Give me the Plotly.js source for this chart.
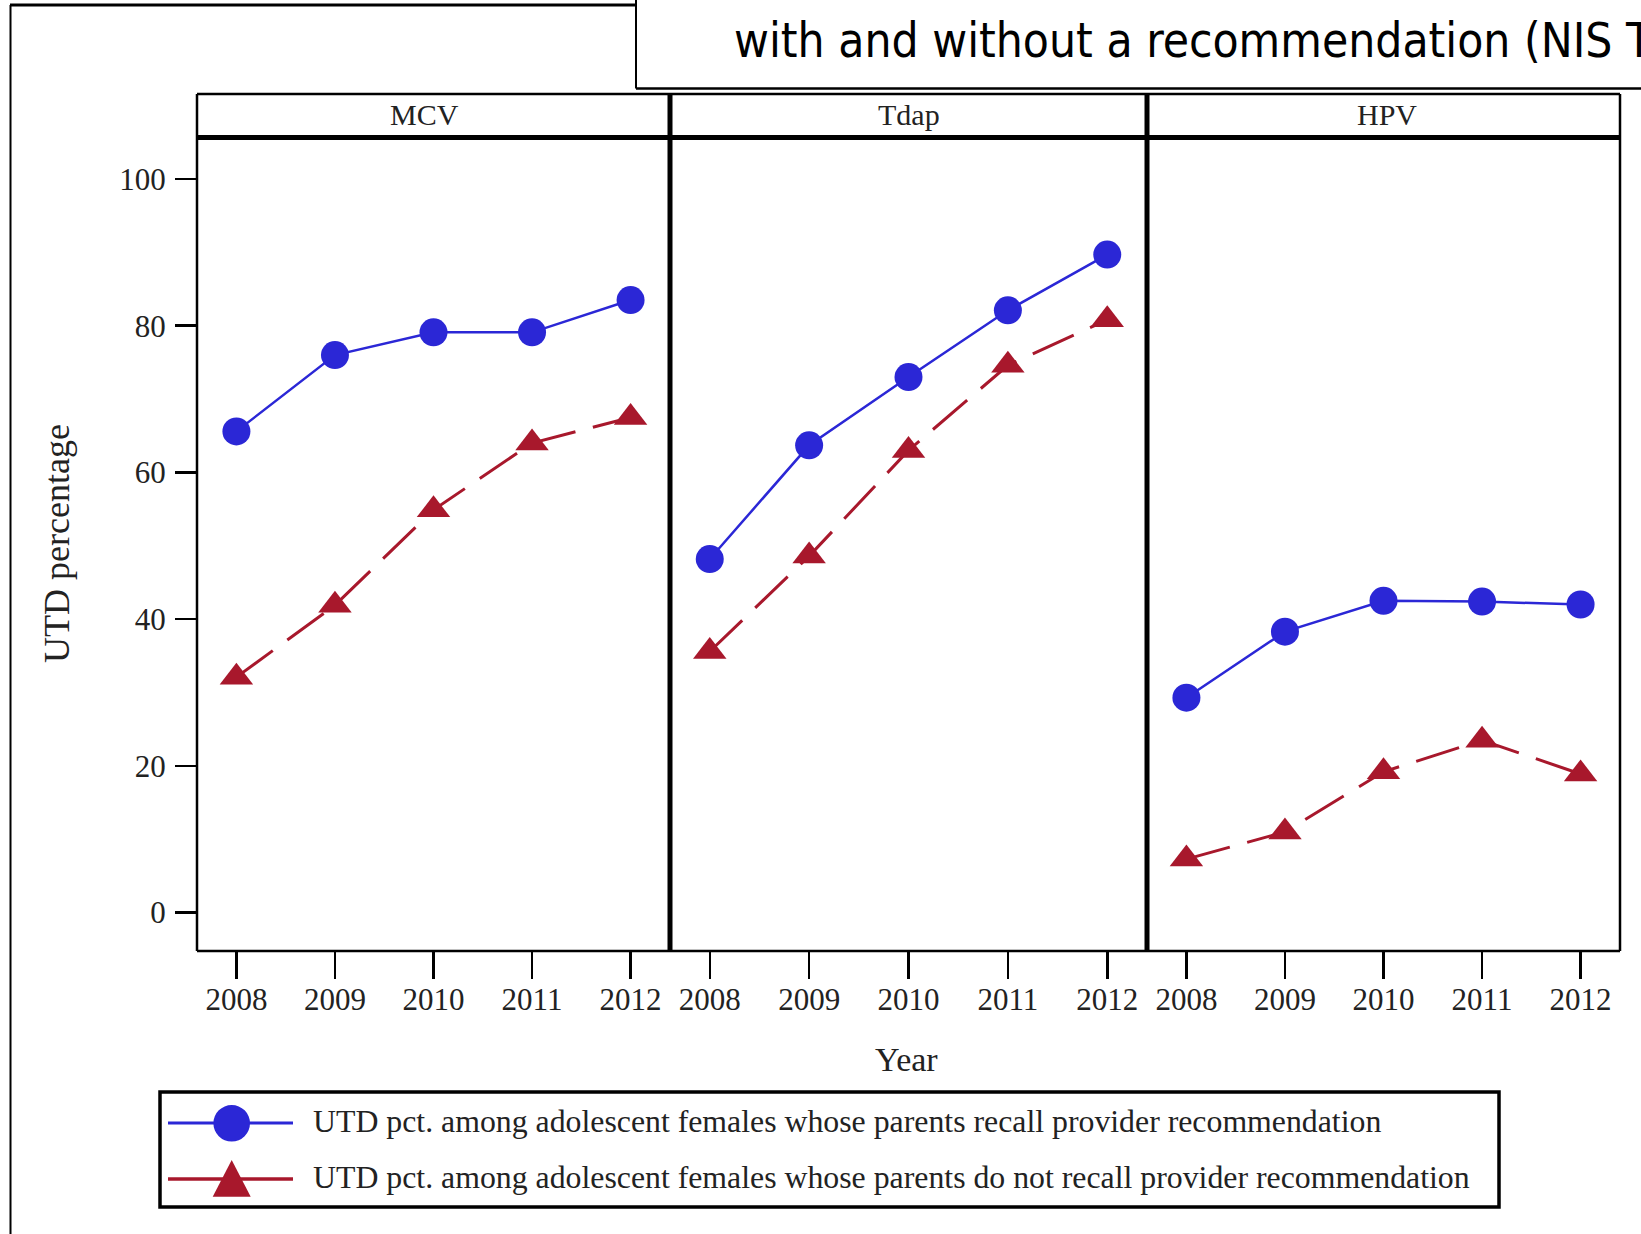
<!DOCTYPE html>
<html>
<head>
<meta charset="utf-8">
<script src="https://cdn.plot.ly/plotly-3.0.1.min.js"></script>
<style>
  html, body { margin: 0; padding: 0; background: #ffffff; overflow: hidden; }
  #chart { width: 1641px; height: 1234px; }
</style>
</head>
<body>
<div id="chart"></div>
<script>
// ---- Data ----
const years = [2008, 2009, 2010, 2011, 2012];
const yearLabels = ["2008", "2009", "2010", "2011", "2012"];
const panels = ["MCV", "Tdap", "HPV"];

const mcvRecommended   = [65.6, 76.0, 79.1, 79.1, 83.5];
const mcvNoRecommend   = [32.1, 41.9, 54.9, 64.0, 67.5];
const tdapRecommended  = [48.2, 63.7, 73.0, 82.1, 89.7];
const tdapNoRecommend  = [35.6, 48.6, 63.0, 74.6, 80.8];
const hpvRecommended   = [29.3, 38.3, 42.5, 42.4, 42.0];
const hpvNoRecommend   = [7.3, 11.0, 19.2, 23.5, 18.9];

const yTicks = [0, 20, 40, 60, 80, 100];

const seriesNames = [
  "UTD pct. among adolescent females whose parents recall provider recommendation",
  "UTD pct. among adolescent females whose parents do not recall provider recommendation"
];
const titleText = "with and without a recommendation (NIS T";
const yTitle = "UTD percentage";
const xTitle = "Year";

// ---- Styling ----
const W = 1641, H = 1234;
const BLUE = "#2B27D6";
const RED = "#A8182C";
const SERIF = "Liberation Serif, Times New Roman, serif";
const SANS = "DejaVu Sans Condensed, DejaVu Sans, sans-serif";
const px = x => x / W;
const py = y => 1 - y / H;

const recSets = [mcvRecommended, tdapRecommended, hpvRecommended];
const noSets = [mcvNoRecommend, tdapNoRecommend, hpvNoRecommend];
const xa = ["x", "x2", "x3"];

const traces = [];
for (let i = 0; i < 3; i++) {
  traces.push({
    type: "scatter", mode: "lines+markers",
    x: years, y: recSets[i], xaxis: xa[i], yaxis: "y",
    name: seriesNames[0], showlegend: false, cliponaxis: false,
    line: { color: BLUE, width: 2.5 },
    marker: { symbol: "circle", size: 28, color: BLUE }
  });
  traces.push({
    type: "scatter", mode: "lines+markers",
    x: years, y: noSets[i], xaxis: xa[i], yaxis: "y",
    name: seriesNames[1], showlegend: false, cliponaxis: false,
    line: { color: RED, width: 3, dash: "45px,18px" },
    marker: { symbol: "triangle-up", size: 29, color: RED }
  });
}

// panel geometry (px)
const L = 197, R = 1620, T = 138, B = 951, HT = 94;
const D1 = 670, D2 = 1147;

function xAxis(d0, d1) {
  return {
    domain: [px(d0), px(d1)], range: [2007.6, 2012.4], anchor: "y",
    tickmode: "array", tickvals: years, ticktext: yearLabels,
    ticks: "outside", ticklen: 27, tickwidth: 2.5, tickcolor: "#000",
    showgrid: false, zeroline: false, showline: false, fixedrange: true,
    tickfont: { family: SERIF, size: 31, color: "#222" },
    ticklabelstandoff: -6
  };
}

const shapes = [];
function line(x0, y0, x1, y1, w, c) {
  shapes.push({ type: "line", xref: "paper", yref: "paper",
    x0: px(x0), y0: py(y0), x1: px(x1), y1: py(y1),
    line: { color: c || "#000", width: w } });
}
// outer frame
line(10.5, 5, 10.5, H + 5, 2);
line(10, 5, 636, 5, 3);
// title box
line(636, -5, 636, 88.5, 2);
line(636, 88.5, W + 10, 88.5, 2.5);
// panels
line(L, HT, R, HT, 2.5);
line(L, B, R, B, 2.5);
line(L, HT, L, B, 2.5);
line(R, HT, R, B, 2.5);
line(L, 137.5, R, 137.5, 5);
line(D1, HT, D1, B, 5);
line(D2, HT, D2, B, 5);
// legend box
shapes.push({ type: "rect", xref: "paper", yref: "paper",
  x0: px(160), y0: py(1092), x1: px(1499), y1: py(1207),
  line: { color: "#000", width: 3.5 }, fillcolor: "rgba(0,0,0,0)" });
// legend keys
line(168, 1123, 293, 1123, 3, BLUE);
line(168, 1179, 293, 1179, 3.5, RED);
shapes.push({ type: "circle", xref: "paper", yref: "paper",
  x0: px(231.7 - 18.3), x1: px(231.7 + 18.3), y0: py(1123.3 - 18.3), y1: py(1123.3 + 18.3),
  fillcolor: BLUE, line: { width: 0 } });
shapes.push({ type: "path", xref: "paper", yref: "paper",
  path: `M${px(231.7)},${py(1160)} L${px(212.7)},${py(1196.7)} L${px(250.7)},${py(1196.7)} Z`,
  fillcolor: RED, line: { width: 0 } });

const annotations = [
  { text: titleText, x: px(732), y: py(40), xref: "paper", yref: "paper",
    xanchor: "left", yanchor: "middle", showarrow: false,
    font: { family: SANS, size: 47.5, color: "#000" } },
  { text: panels[0], x: px(424), y: py(114), xref: "paper", yref: "paper",
    xanchor: "center", yanchor: "middle", showarrow: false,
    font: { family: SERIF, size: 30, color: "#222" } },
  { text: panels[1], x: px(908.5), y: py(114), xref: "paper", yref: "paper",
    xanchor: "center", yanchor: "middle", showarrow: false,
    font: { family: SERIF, size: 30, color: "#222" } },
  { text: panels[2], x: px(1386.7), y: py(114), xref: "paper", yref: "paper",
    xanchor: "center", yanchor: "middle", showarrow: false,
    font: { family: SERIF, size: 30, color: "#222" } },
  { text: xTitle, x: px(906), y: py(1059), xref: "paper", yref: "paper",
    xanchor: "center", yanchor: "middle", showarrow: false,
    font: { family: SERIF, size: 34, color: "#222" } },
  { text: yTitle, x: px(57), y: py(544), xref: "paper", yref: "paper",
    xanchor: "center", yanchor: "middle", showarrow: false, textangle: -90,
    font: { family: SERIF, size: 36, color: "#222" } },
  { text: seriesNames[0], x: px(311), y: py(1121), xref: "paper", yref: "paper",
    xanchor: "left", yanchor: "middle", showarrow: false,
    font: { family: SERIF, size: 31.8, color: "#222" } },
  { text: seriesNames[1], x: px(311), y: py(1177), xref: "paper", yref: "paper",
    xanchor: "left", yanchor: "middle", showarrow: false,
    font: { family: SERIF, size: 31.8, color: "#222" } }
];

const layout = {
  width: W, height: H,
  margin: { l: 0, r: 0, t: 0, b: 0, pad: 0 },
  paper_bgcolor: "#ffffff", plot_bgcolor: "rgba(0,0,0,0)",
  showlegend: false,
  xaxis: xAxis(L, D1),
  xaxis2: xAxis(D1, D2),
  xaxis3: xAxis(D2, R),
  yaxis: {
    domain: [py(B), py(T)], range: [-5.23, 105.59], anchor: "x",
    tickmode: "array", tickvals: yTicks,
    ticks: "outside", ticklen: 21, tickwidth: 2.5, tickcolor: "#000",
    showgrid: false, zeroline: false, showline: false, fixedrange: true,
    tickfont: { family: SERIF, size: 31, color: "#222" },
    ticklabelstandoff: 3
  },
  shapes: shapes,
  annotations: annotations
};

Plotly.newPlot("chart", traces, layout, { displayModeBar: false, staticPlot: true });
</script>
</body>
</html>
